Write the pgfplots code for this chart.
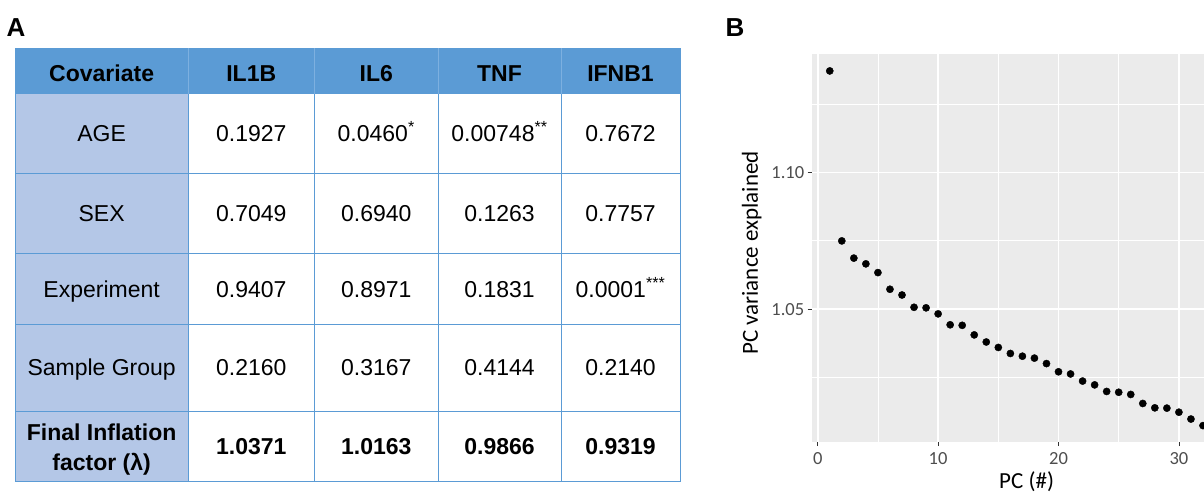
\documentclass[border=0pt]{standalone}
\usepackage{fontspec}
\setmainfont{Liberation Sans}
\newfontfamily\carlito{Carlito}
\usepackage{pgfplots}
\pgfplotsset{compat=1.18}
\definecolor{hdr}{HTML}{5B9BD5}
\definecolor{hdrsep}{HTML}{7DB0E0}
\definecolor{fc}{HTML}{B4C7E7}
\definecolor{ln}{HTML}{5B9BD5}
\definecolor{panel}{HTML}{EBEBEB}
\definecolor{tl}{HTML}{4D4D4D}
\definecolor{tk}{HTML}{333333}
\newcommand\cell[3]{\node[anchor=base,inner sep=0pt,font=\fontsize{23}{28}\selectfont] at (#1,#2) {#3};}
\newcommand\bcell[3]{\node[anchor=base,inner sep=0pt,font=\fontsize{23}{28}\selectfont\bfseries] at (#1,#2) {#3};}
\begin{document}
\begin{tikzpicture}[x=1pt,y=1pt]
\useasboundingbox (0,0) rectangle (1204,498);
\clip (0,0) rectangle (1204,498);
% ---------- panel A: table ----------
\fill[hdr] (15.3,404) rectangle (680,449.7);
\fill[fc] (15.3,16.3) rectangle (188,404);
\foreach \y in {404,324.7,244,173.7,87,16.3} \draw[ln, line width=1pt] (15.3,\y) -- (680,\y);
\draw[ln, line width=1pt] (15.3,449.7) -- (680,449.7);
\foreach \x in {15.3,188,314.5,438,561,680} \draw[ln, line width=1pt] (\x,16.3) -- (\x,404);
\foreach \x in {188,314.5,438,561} \draw[hdrsep, line width=0.8pt] (\x,404) -- (\x,449.7);
\foreach \x in {15.3,680} \draw[ln, line width=1pt] (\x,404) -- (\x,449.7);
\node[anchor=base west,inner sep=0pt,font=\fontsize{26}{30}\selectfont\bfseries] at (6.5,461.3) {A};
\node[anchor=base west,inner sep=0pt,font=\fontsize{26}{30}\selectfont\bfseries] at (725.5,461.3) {B};
% header
\bcell{101.65}{416.5}{Covariate}
\bcell{251.25}{416.5}{IL1B}
\bcell{376.25}{416.5}{IL6}
\bcell{499.5}{416.5}{TNF}
\bcell{620.5}{416.5}{IFNB1}
% AGE
\cell{101.65}{356.1}{AGE}
\cell{251.25}{356.1}{0.1927}
\cell{376.25}{356.1}{0.0460\textsuperscript{*}}
\cell{499.5}{356.1}{0.00748\textsuperscript{**}}
\cell{620.5}{356.1}{0.7672}
% SEX
\cell{101.65}{276.1}{SEX}
\cell{251.25}{276.1}{0.7049}
\cell{376.25}{276.1}{0.6940}
\cell{499.5}{276.1}{0.1263}
\cell{620.5}{276.1}{0.7757}
% Experiment
\cell{101.65}{200.6}{Experiment}
\cell{251.25}{200.6}{0.9407}
\cell{376.25}{200.6}{0.8971}
\cell{499.5}{200.6}{0.1831}
\cell{620.5}{200.6}{0.0001\textsuperscript{***}}
% Sample Group
\cell{101.65}{122.1}{Sample Group}
\cell{251.25}{122.1}{0.2160}
\cell{376.25}{122.1}{0.3167}
\cell{499.5}{122.1}{0.4144}
\cell{620.5}{122.1}{0.2140}
% Final
\bcell{101.65}{57.3}{Final Inflation}
\bcell{101.65}{28}{factor (λ)}
\bcell{251.25}{43.2}{1.0371}
\bcell{376.25}{43.2}{1.0163}
\bcell{499.5}{43.2}{0.9866}
\bcell{620.5}{43.2}{0.9319}
% ---------- panel B ----------
\begin{axis}[
  at={(811.7pt,56pt)}, anchor=south west, scale only axis,
  width=429.8pt, height=388pt,
  xmin=-0.5, xmax=35.2, ymin=1.0014, ymax=1.1434,
  axis background/.style={fill=panel},
  axis line style={draw=none},
  xtick={0,10,20,30}, ytick={1.05,1.10},
  minor xtick={5,15,25,35}, minor ytick={1.025,1.075,1.125},
  grid=both,
  major grid style={white, line width=1.6pt},
  minor grid style={white, line width=0.8pt},
  tick align=outside, tick pos=left,
  major tick length=4pt, minor tick length=0pt,
  tick style={tk, line width=0.8pt},
  /pgf/number format/assume math mode=true,
  every tick label/.append style={font=\carlito\fontsize{18.5}{18.5}\selectfont, text=tl},
  yticklabel style={/pgf/number format/.cd, fixed, fixed zerofill, precision=2},
  xticklabel style={yshift=-3pt},
  xlabel={PC (\#)}, ylabel={PC variance explained},
  label style={font=\carlito\fontsize{23}{23}\selectfont},
  xlabel style={at={(axis description cs:0.5,-0.103)}, anchor=center},
  ylabel style={at={(axis description cs:-0.1396,0.487)}, anchor=center},
]
\addplot[only marks, mark=*, mark size=3.6pt, black] coordinates {
(1,1.1372) (2,1.0750) (3,1.0687) (4,1.0666) (5,1.0634) (6,1.0573) (7,1.0552) (8,1.0507)
(9,1.0505) (10,1.0483) (11,1.0443) (12,1.0441) (13,1.0406) (14,1.0380) (15,1.0360) (16,1.0338)
(17,1.0328) (18,1.0321) (19,1.0301) (20,1.0271) (21,1.0263) (22,1.0237) (23,1.0223) (24,1.0199)
(25,1.0196) (26,1.0188) (27,1.0155) (28,1.0139) (29,1.0138) (30,1.0123) (31,1.0098) (32,1.0074)
};
\end{axis}
\end{tikzpicture}
\end{document}
